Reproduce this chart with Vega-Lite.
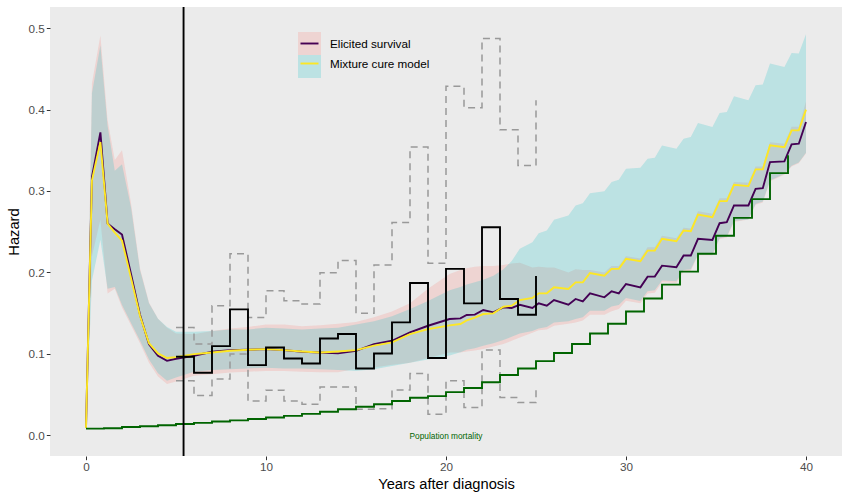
{
  "$schema": "https://vega.github.io/schema/vega-lite/v6.json",
  "width": 792,
  "height": 449,
  "autosize": {"type": "none"},
  "padding": {"left": 50, "top": 7, "right": 8, "bottom": 44},
  "background": "white",
  "config": {
    "view": {"fill": "#EBEBEB", "stroke": null},
    "font": "Liberation Sans",
    "axis": {
      "domain": false,
      "grid": false,
      "tickColor": "#333333",
      "tickSize": 3.7,
      "tickWidth": 1,
      "labelColor": "#4D4D4D",
      "labelFontSize": 11.7,
      "labelPadding": 2,
      "titleFontSize": 14.7,
      "titleFontWeight": "normal",
      "titleColor": "black"
    },
    "legend": {"labelFont": "Liberation Sans", "labelColor": "black", "labelFontSize": 11.7}
  },
  "datasets": {
    "model": [
      {"t": 0, "model": "Elicited survival", "est": 0.009, "lo": 0.008, "hi": 0.010},
      {"t": 0.33, "model": "Elicited survival", "est": 0.317, "lo": 0.22, "hi": 0.432},
      {"t": 0.8, "model": "Elicited survival", "est": 0.372, "lo": 0.265, "hi": 0.491},
      {"t": 1.2, "model": "Elicited survival", "est": 0.260, "lo": 0.174, "hi": 0.387},
      {"t": 1.6, "model": "Elicited survival", "est": 0.253, "lo": 0.18, "hi": 0.338},
      {"t": 2.0, "model": "Elicited survival", "est": 0.2465, "lo": 0.157, "hi": 0.350},
      {"t": 2.5, "model": "Elicited survival", "est": 0.198, "lo": 0.135, "hi": 0.285},
      {"t": 3.0, "model": "Elicited survival", "est": 0.148, "lo": 0.113, "hi": 0.205},
      {"t": 3.5, "model": "Elicited survival", "est": 0.1117, "lo": 0.089, "hi": 0.163},
      {"t": 4.0, "model": "Elicited survival", "est": 0.0976, "lo": 0.072, "hi": 0.143},
      {"t": 4.5, "model": "Elicited survival", "est": 0.0914, "lo": 0.063, "hi": 0.132},
      {"t": 5, "model": "Elicited survival", "est": 0.094, "lo": 0.066, "hi": 0.125},
      {"t": 6, "model": "Elicited survival", "est": 0.0976, "lo": 0.073, "hi": 0.124},
      {"t": 7, "model": "Elicited survival", "est": 0.1025, "lo": 0.075, "hi": 0.128},
      {"t": 8, "model": "Elicited survival", "est": 0.1045, "lo": 0.077, "hi": 0.131},
      {"t": 9, "model": "Elicited survival", "est": 0.105, "lo": 0.078, "hi": 0.133},
      {"t": 10, "model": "Elicited survival", "est": 0.1058, "lo": 0.079, "hi": 0.136},
      {"t": 11, "model": "Elicited survival", "est": 0.1045, "lo": 0.079, "hi": 0.136},
      {"t": 12, "model": "Elicited survival", "est": 0.1025, "lo": 0.078, "hi": 0.134},
      {"t": 13, "model": "Elicited survival", "est": 0.1017, "lo": 0.0775, "hi": 0.135},
      {"t": 14, "model": "Elicited survival", "est": 0.1005, "lo": 0.0775, "hi": 0.137},
      {"t": 15, "model": "Elicited survival", "est": 0.1037, "lo": 0.0816, "hi": 0.139},
      {"t": 16, "model": "Elicited survival", "est": 0.112, "lo": 0.0833, "hi": 0.145},
      {"t": 17, "model": "Elicited survival", "est": 0.116, "lo": 0.0865, "hi": 0.152},
      {"t": 18, "model": "Elicited survival", "est": 0.1263, "lo": 0.089, "hi": 0.162},
      {"t": 19, "model": "Elicited survival", "est": 0.1345, "lo": 0.095, "hi": 0.180},
      {"t": 20.2, "model": "Elicited survival", "est": 0.1427, "lo": 0.1015, "hi": 0.198},
      {"t": 20.8, "model": "Elicited survival", "est": 0.1436, "lo": 0.1017, "hi": 0.203},
      {"t": 21.15, "model": "Elicited survival", "est": 0.1477, "lo": 0.103, "hi": 0.205},
      {"t": 21.6, "model": "Elicited survival", "est": 0.1481, "lo": 0.104, "hi": 0.207},
      {"t": 22.07, "model": "Elicited survival", "est": 0.1538, "lo": 0.106, "hi": 0.208},
      {"t": 22.63, "model": "Elicited survival", "est": 0.151, "lo": 0.109, "hi": 0.208},
      {"t": 23.19, "model": "Elicited survival", "est": 0.1571, "lo": 0.112, "hi": 0.209},
      {"t": 23.65, "model": "Elicited survival", "est": 0.1563, "lo": 0.116, "hi": 0.211},
      {"t": 24.1, "model": "Elicited survival", "est": 0.1603, "lo": 0.120, "hi": 0.212},
      {"t": 24.8, "model": "Elicited survival", "est": 0.1563, "lo": 0.126, "hi": 0.206},
      {"t": 25.15, "model": "Elicited survival", "est": 0.162, "lo": 0.129, "hi": 0.207},
      {"t": 25.6, "model": "Elicited survival", "est": 0.1591, "lo": 0.130, "hi": 0.206},
      {"t": 26.0, "model": "Elicited survival", "est": 0.1661, "lo": 0.1345, "hi": 0.206},
      {"t": 26.8, "model": "Elicited survival", "est": 0.1603, "lo": 0.137, "hi": 0.200},
      {"t": 27.2, "model": "Elicited survival", "est": 0.1674, "lo": 0.1386, "hi": 0.204},
      {"t": 27.6, "model": "Elicited survival", "est": 0.1645, "lo": 0.141, "hi": 0.203},
      {"t": 28.0, "model": "Elicited survival", "est": 0.1743, "lo": 0.148, "hi": 0.203},
      {"t": 28.8, "model": "Elicited survival", "est": 0.1694, "lo": 0.148, "hi": 0.200},
      {"t": 29.2, "model": "Elicited survival", "est": 0.1767, "lo": 0.1522, "hi": 0.208},
      {"t": 29.6, "model": "Elicited survival", "est": 0.1743, "lo": 0.155, "hi": 0.208},
      {"t": 30.0, "model": "Elicited survival", "est": 0.1858, "lo": 0.1653, "hi": 0.220},
      {"t": 30.8, "model": "Elicited survival", "est": 0.1817, "lo": 0.162, "hi": 0.217},
      {"t": 31.2, "model": "Elicited survival", "est": 0.1948, "lo": 0.174, "hi": 0.231},
      {"t": 31.6, "model": "Elicited survival", "est": 0.1948, "lo": 0.175, "hi": 0.231},
      {"t": 32.0, "model": "Elicited survival", "est": 0.2083, "lo": 0.188, "hi": 0.245},
      {"t": 32.8, "model": "Elicited survival", "est": 0.2063, "lo": 0.187, "hi": 0.242},
      {"t": 33.2, "model": "Elicited survival", "est": 0.2207, "lo": 0.201, "hi": 0.255},
      {"t": 33.6, "model": "Elicited survival", "est": 0.2207, "lo": 0.202, "hi": 0.254},
      {"t": 34.0, "model": "Elicited survival", "est": 0.2412, "lo": 0.221, "hi": 0.275},
      {"t": 34.8, "model": "Elicited survival", "est": 0.2399, "lo": 0.221, "hi": 0.272},
      {"t": 35.2, "model": "Elicited survival", "est": 0.2604, "lo": 0.241, "hi": 0.291},
      {"t": 35.6, "model": "Elicited survival", "est": 0.2617, "lo": 0.243, "hi": 0.291},
      {"t": 36.0, "model": "Elicited survival", "est": 0.2822, "lo": 0.262, "hi": 0.311},
      {"t": 36.8, "model": "Elicited survival", "est": 0.2822, "lo": 0.265, "hi": 0.310},
      {"t": 37.2, "model": "Elicited survival", "est": 0.3027, "lo": 0.283, "hi": 0.330},
      {"t": 37.6, "model": "Elicited survival", "est": 0.3035, "lo": 0.286, "hi": 0.330},
      {"t": 38.0, "model": "Elicited survival", "est": 0.3355, "lo": 0.312, "hi": 0.360},
      {"t": 38.8, "model": "Elicited survival", "est": 0.3363, "lo": 0.320, "hi": 0.358},
      {"t": 39.2, "model": "Elicited survival", "est": 0.3572, "lo": 0.330, "hi": 0.379},
      {"t": 39.6, "model": "Elicited survival", "est": 0.3581, "lo": 0.334, "hi": 0.379},
      {"t": 40.0, "model": "Elicited survival", "est": 0.3847, "lo": 0.346, "hi": 0.410},
      {"t": 0, "model": "Mixture cure model", "est": 0.009, "lo": 0.008, "hi": 0.010},
      {"t": 0.33, "model": "Mixture cure model", "est": 0.313, "lo": 0.19, "hi": 0.42},
      {"t": 0.8, "model": "Mixture cure model", "est": 0.360, "lo": 0.24, "hi": 0.479},
      {"t": 1.2, "model": "Mixture cure model", "est": 0.260, "lo": 0.18, "hi": 0.38},
      {"t": 1.6, "model": "Mixture cure model", "est": 0.249, "lo": 0.182, "hi": 0.325},
      {"t": 2.0, "model": "Mixture cure model", "est": 0.239, "lo": 0.16, "hi": 0.333},
      {"t": 2.5, "model": "Mixture cure model", "est": 0.193, "lo": 0.138, "hi": 0.28},
      {"t": 3.0, "model": "Mixture cure model", "est": 0.1464, "lo": 0.116, "hi": 0.203},
      {"t": 3.5, "model": "Mixture cure model", "est": 0.113, "lo": 0.093, "hi": 0.162},
      {"t": 4.0, "model": "Mixture cure model", "est": 0.1005, "lo": 0.076, "hi": 0.143},
      {"t": 4.5, "model": "Mixture cure model", "est": 0.0948, "lo": 0.067, "hi": 0.133},
      {"t": 5, "model": "Mixture cure model", "est": 0.096, "lo": 0.071, "hi": 0.127},
      {"t": 6, "model": "Mixture cure model", "est": 0.0997, "lo": 0.078, "hi": 0.127},
      {"t": 7, "model": "Mixture cure model", "est": 0.1017, "lo": 0.080, "hi": 0.128},
      {"t": 8, "model": "Mixture cure model", "est": 0.1037, "lo": 0.081, "hi": 0.130},
      {"t": 9, "model": "Mixture cure model", "est": 0.105, "lo": 0.082, "hi": 0.130},
      {"t": 10, "model": "Mixture cure model", "est": 0.1058, "lo": 0.083, "hi": 0.132},
      {"t": 11, "model": "Mixture cure model", "est": 0.1045, "lo": 0.082, "hi": 0.131},
      {"t": 12, "model": "Mixture cure model", "est": 0.1029, "lo": 0.082, "hi": 0.130},
      {"t": 13, "model": "Mixture cure model", "est": 0.1017, "lo": 0.081, "hi": 0.131},
      {"t": 14, "model": "Mixture cure model", "est": 0.1029, "lo": 0.080, "hi": 0.132},
      {"t": 15, "model": "Mixture cure model", "est": 0.1045, "lo": 0.079, "hi": 0.136},
      {"t": 16, "model": "Mixture cure model", "est": 0.110, "lo": 0.081, "hi": 0.140},
      {"t": 17, "model": "Mixture cure model", "est": 0.114, "lo": 0.085, "hi": 0.146},
      {"t": 18, "model": "Mixture cure model", "est": 0.1243, "lo": 0.089, "hi": 0.155},
      {"t": 19, "model": "Mixture cure model", "est": 0.1304, "lo": 0.093, "hi": 0.165},
      {"t": 20.2, "model": "Mixture cure model", "est": 0.135, "lo": 0.098, "hi": 0.178},
      {"t": 20.8, "model": "Mixture cure model", "est": 0.1366, "lo": 0.102, "hi": 0.182},
      {"t": 21.15, "model": "Mixture cure model", "est": 0.141, "lo": 0.105, "hi": 0.185},
      {"t": 21.6, "model": "Mixture cure model", "est": 0.1444, "lo": 0.107, "hi": 0.188},
      {"t": 22.07, "model": "Mixture cure model", "est": 0.1489, "lo": 0.110, "hi": 0.191},
      {"t": 22.63, "model": "Mixture cure model", "est": 0.1497, "lo": 0.113, "hi": 0.196},
      {"t": 23.19, "model": "Mixture cure model", "est": 0.1579, "lo": 0.117, "hi": 0.204},
      {"t": 23.65, "model": "Mixture cure model", "est": 0.1591, "lo": 0.121, "hi": 0.214},
      {"t": 24.1, "model": "Mixture cure model", "est": 0.166, "lo": 0.125, "hi": 0.229},
      {"t": 24.8, "model": "Mixture cure model", "est": 0.1686, "lo": 0.128, "hi": 0.237},
      {"t": 25.15, "model": "Mixture cure model", "est": 0.1743, "lo": 0.131, "hi": 0.248},
      {"t": 25.6, "model": "Mixture cure model", "est": 0.1743, "lo": 0.133, "hi": 0.2514},
      {"t": 26.0, "model": "Mixture cure model", "est": 0.1817, "lo": 0.1386, "hi": 0.2646},
      {"t": 26.8, "model": "Mixture cure model", "est": 0.1797, "lo": 0.140, "hi": 0.2699},
      {"t": 27.2, "model": "Mixture cure model", "est": 0.1878, "lo": 0.1427, "hi": 0.2822},
      {"t": 27.6, "model": "Mixture cure model", "est": 0.1878, "lo": 0.145, "hi": 0.285},
      {"t": 28.0, "model": "Mixture cure model", "est": 0.1993, "lo": 0.153, "hi": 0.2973},
      {"t": 28.8, "model": "Mixture cure model", "est": 0.196, "lo": 0.153, "hi": 0.2998},
      {"t": 29.2, "model": "Mixture cure model", "est": 0.2043, "lo": 0.158, "hi": 0.3109},
      {"t": 29.6, "model": "Mixture cure model", "est": 0.2043, "lo": 0.160, "hi": 0.3137},
      {"t": 30.0, "model": "Mixture cure model", "est": 0.2166, "lo": 0.1686, "hi": 0.3273},
      {"t": 30.8, "model": "Mixture cure model", "est": 0.2137, "lo": 0.165, "hi": 0.3286},
      {"t": 31.2, "model": "Mixture cure model", "est": 0.2268, "lo": 0.177, "hi": 0.3396},
      {"t": 31.6, "model": "Mixture cure model", "est": 0.2268, "lo": 0.178, "hi": 0.3409},
      {"t": 32.0, "model": "Mixture cure model", "est": 0.2412, "lo": 0.190, "hi": 0.356},
      {"t": 32.8, "model": "Mixture cure model", "est": 0.2383, "lo": 0.189, "hi": 0.352},
      {"t": 33.2, "model": "Mixture cure model", "est": 0.2514, "lo": 0.203, "hi": 0.3642},
      {"t": 33.6, "model": "Mixture cure model", "est": 0.2506, "lo": 0.204, "hi": 0.3663},
      {"t": 34.0, "model": "Mixture cure model", "est": 0.2711, "lo": 0.222, "hi": 0.3835},
      {"t": 34.8, "model": "Mixture cure model", "est": 0.2678, "lo": 0.222, "hi": 0.3786},
      {"t": 35.2, "model": "Mixture cure model", "est": 0.2875, "lo": 0.242, "hi": 0.3958},
      {"t": 35.6, "model": "Mixture cure model", "est": 0.2875, "lo": 0.244, "hi": 0.397},
      {"t": 36.0, "model": "Mixture cure model", "est": 0.3076, "lo": 0.263, "hi": 0.4163},
      {"t": 36.8, "model": "Mixture cure model", "est": 0.306, "lo": 0.265, "hi": 0.4114},
      {"t": 37.2, "model": "Mixture cure model", "est": 0.3265, "lo": 0.284, "hi": 0.4299},
      {"t": 37.6, "model": "Mixture cure model", "est": 0.3265, "lo": 0.287, "hi": 0.4307},
      {"t": 38.0, "model": "Mixture cure model", "est": 0.356, "lo": 0.313, "hi": 0.4565},
      {"t": 38.8, "model": "Mixture cure model", "est": 0.3539, "lo": 0.321, "hi": 0.4524},
      {"t": 39.2, "model": "Mixture cure model", "est": 0.3745, "lo": 0.331, "hi": 0.4696},
      {"t": 39.6, "model": "Mixture cure model", "est": 0.3745, "lo": 0.335, "hi": 0.4688},
      {"t": 40.0, "model": "Mixture cure model", "est": 0.400, "lo": 0.347, "hi": 0.4926}
    ],
    "observed": [
      {"t": 5, "haz": 0.0964, "lower": 0.067, "upper": 0.1324},
      {"t": 6, "haz": 0.0767, "lower": 0.0487, "upper": 0.112},
      {"t": 7, "haz": 0.1095, "lower": 0.069, "upper": 0.159},
      {"t": 8, "haz": 0.1546, "lower": 0.0997, "upper": 0.223},
      {"t": 9, "haz": 0.0861, "lower": 0.042, "upper": 0.1447},
      {"t": 10, "haz": 0.1078, "lower": 0.0554, "upper": 0.1776},
      {"t": 11, "haz": 0.0943, "lower": 0.042, "upper": 0.1653},
      {"t": 12, "haz": 0.0881, "lower": 0.038, "upper": 0.1612},
      {"t": 13, "haz": 0.1189, "lower": 0.0594, "upper": 0.1997},
      {"t": 14, "haz": 0.1243, "lower": 0.0594, "upper": 0.2145},
      {"t": 15, "haz": 0.082, "lower": 0.032, "upper": 0.1497},
      {"t": 16, "haz": 0.1004, "lower": 0.0325, "upper": 0.2092},
      {"t": 17, "haz": 0.1386, "lower": 0.0556, "upper": 0.2613},
      {"t": 18, "haz": 0.187, "lower": 0.0758, "upper": 0.354},
      {"t": 19, "haz": 0.0948, "lower": 0.0258, "upper": 0.2112},
      {"t": 20, "haz": 0.2043, "lower": 0.0668, "upper": 0.4286},
      {"t": 21, "haz": 0.162, "lower": 0.034, "upper": 0.4024},
      {"t": 22, "haz": 0.2555, "lower": 0.1046, "upper": 0.4873},
      {"t": 23, "haz": 0.1674, "lower": 0.0463, "upper": 0.3753},
      {"t": 24, "haz": 0.148, "lower": 0.0401, "upper": 0.3314},
      {"t": 25, "haz": 0.1957, "lower": 0.0607, "upper": 0.4114}
    ],
    "population": [
      {"t": 0, "haz": 0.0081}, {"t": 1, "haz": 0.0086}, {"t": 2, "haz": 0.0102},
      {"t": 3, "haz": 0.0111}, {"t": 4, "haz": 0.0123}, {"t": 5, "haz": 0.0138},
      {"t": 6, "haz": 0.0152}, {"t": 7, "haz": 0.0168}, {"t": 8, "haz": 0.0182},
      {"t": 9, "haz": 0.0200}, {"t": 10, "haz": 0.0218}, {"t": 11, "haz": 0.0238},
      {"t": 12, "haz": 0.0262}, {"t": 13, "haz": 0.0288}, {"t": 14, "haz": 0.032},
      {"t": 15, "haz": 0.035}, {"t": 16, "haz": 0.038}, {"t": 17, "haz": 0.042},
      {"t": 18, "haz": 0.046}, {"t": 19, "haz": 0.048}, {"t": 20, "haz": 0.053},
      {"t": 21, "haz": 0.058}, {"t": 22, "haz": 0.065}, {"t": 23, "haz": 0.074},
      {"t": 24, "haz": 0.082}, {"t": 25, "haz": 0.091}, {"t": 26, "haz": 0.101},
      {"t": 27, "haz": 0.112}, {"t": 28, "haz": 0.125}, {"t": 29, "haz": 0.137},
      {"t": 30, "haz": 0.152}, {"t": 31, "haz": 0.168}, {"t": 32, "haz": 0.185},
      {"t": 33, "haz": 0.201}, {"t": 34, "haz": 0.223}, {"t": 35, "haz": 0.245},
      {"t": 36, "haz": 0.267}, {"t": 37, "haz": 0.290}, {"t": 38, "haz": 0.322},
      {"t": 39, "haz": 0.344}
    ],
    "cutoff": [{"t": 5.42}],
    "note": [{"t": 20, "haz": 0, "label": "Population mortality"}]
  },
  "encoding": {
    "x": {
      "field": "t",
      "type": "quantitative",
      "scale": {"domain": [-2, 42], "nice": false, "zero": false},
      "axis": {"title": "Years after diagnosis", "values": [0, 10, 20, 30, 40], "titlePadding": 3}
    }
  },
  "layer": [
    {
      "data": {"name": "model"},
      "mark": {"type": "area", "opacity": 0.2},
      "encoding": {
        "y": {
          "field": "lo",
          "type": "quantitative",
          "scale": {"domain": [-0.0255, 0.526], "nice": false, "zero": false},
          "axis": {"title": "Hazard", "values": [0, 0.1, 0.2, 0.3, 0.4, 0.5], "format": ".1f", "titlePadding": 7}
        },
        "y2": {"field": "hi"},
        "fill": {
          "field": "model",
          "type": "nominal",
          "scale": {"domain": ["Elicited survival", "Mixture cure model"], "range": ["#F8766D", "#00BFC4"]},
          "legend": {
            "orient": "none",
            "legendX": 248,
            "legendY": 25,
            "title": null,
            "padding": 0,
            "symbolType": "square",
            "symbolSize": 529,
            "symbolOpacity": 0.2,
            "symbolStrokeWidth": 0,
            "rowPadding": 0,
            "labelExpr": "''",
            "labelOffset": 0
          }
        }
      }
    },
    {
      "data": {"name": "model"},
      "mark": {"type": "line", "strokeWidth": 1.9},
      "encoding": {
        "y": {
          "field": "est",
          "type": "quantitative",
          "scale": {"domain": [-0.0255, 0.526], "nice": false, "zero": false},
          "axis": {"title": "Hazard", "values": [0, 0.1, 0.2, 0.3, 0.4, 0.5], "format": ".1f", "titlePadding": 7}
        },
        "stroke": {
          "field": "model",
          "type": "nominal",
          "scale": {"range": ["#440154", "#FDE725"]},
          "legend": {
            "orient": "none",
            "legendX": 249.5,
            "legendY": 26.5,
            "title": null,
            "padding": 0,
            "symbolType": "stroke",
            "symbolSize": 324,
            "symbolStrokeWidth": 1.9,
            "rowPadding": 3,
            "labelOffset": 10.5
          }
        }
      }
    },
    {
      "data": {"name": "observed"},
      "mark": {"type": "line", "interpolate": "step-after", "color": "#999999", "strokeWidth": 1.5, "strokeDash": [7, 5]},
      "encoding": {
        "y": {
          "field": "upper",
          "type": "quantitative",
          "scale": {"domain": [-0.0255, 0.526], "nice": false, "zero": false},
          "axis": {"title": "Hazard", "values": [0, 0.1, 0.2, 0.3, 0.4, 0.5], "format": ".1f", "titlePadding": 7}
        }
      }
    },
    {
      "data": {"name": "observed"},
      "mark": {"type": "line", "interpolate": "step-after", "color": "#999999", "strokeWidth": 1.5, "strokeDash": [7, 5]},
      "encoding": {
        "y": {
          "field": "lower",
          "type": "quantitative",
          "scale": {"domain": [-0.0255, 0.526], "nice": false, "zero": false},
          "axis": {"title": "Hazard", "values": [0, 0.1, 0.2, 0.3, 0.4, 0.5], "format": ".1f", "titlePadding": 7}
        }
      }
    },
    {
      "data": {"name": "observed"},
      "mark": {"type": "line", "interpolate": "step-after", "color": "black", "strokeWidth": 1.9},
      "encoding": {
        "y": {
          "field": "haz",
          "type": "quantitative",
          "scale": {"domain": [-0.0255, 0.526], "nice": false, "zero": false},
          "axis": {"title": "Hazard", "values": [0, 0.1, 0.2, 0.3, 0.4, 0.5], "format": ".1f", "titlePadding": 7}
        }
      }
    },
    {
      "data": {"name": "population"},
      "mark": {"type": "line", "interpolate": "step-after", "color": "#006400", "strokeWidth": 1.9},
      "encoding": {
        "y": {
          "field": "haz",
          "type": "quantitative",
          "scale": {"domain": [-0.0255, 0.526], "nice": false, "zero": false},
          "axis": {"title": "Hazard", "values": [0, 0.1, 0.2, 0.3, 0.4, 0.5], "format": ".1f", "titlePadding": 7}
        }
      }
    },
    {
      "data": {"name": "cutoff"},
      "mark": {"type": "rule", "color": "black", "strokeWidth": 1.9},
      "encoding": {}
    },
    {
      "data": {"name": "note"},
      "mark": {"type": "text", "color": "#006400", "fontSize": 8.3, "align": "center", "baseline": "middle", "dy": 1.5},
      "encoding": {
        "y": {
          "field": "haz",
          "type": "quantitative",
          "scale": {"domain": [-0.0255, 0.526], "nice": false, "zero": false},
          "axis": {"title": "Hazard", "values": [0, 0.1, 0.2, 0.3, 0.4, 0.5], "format": ".1f", "titlePadding": 7}
        },
        "text": {"field": "label"}
      }
    }
  ]
}
